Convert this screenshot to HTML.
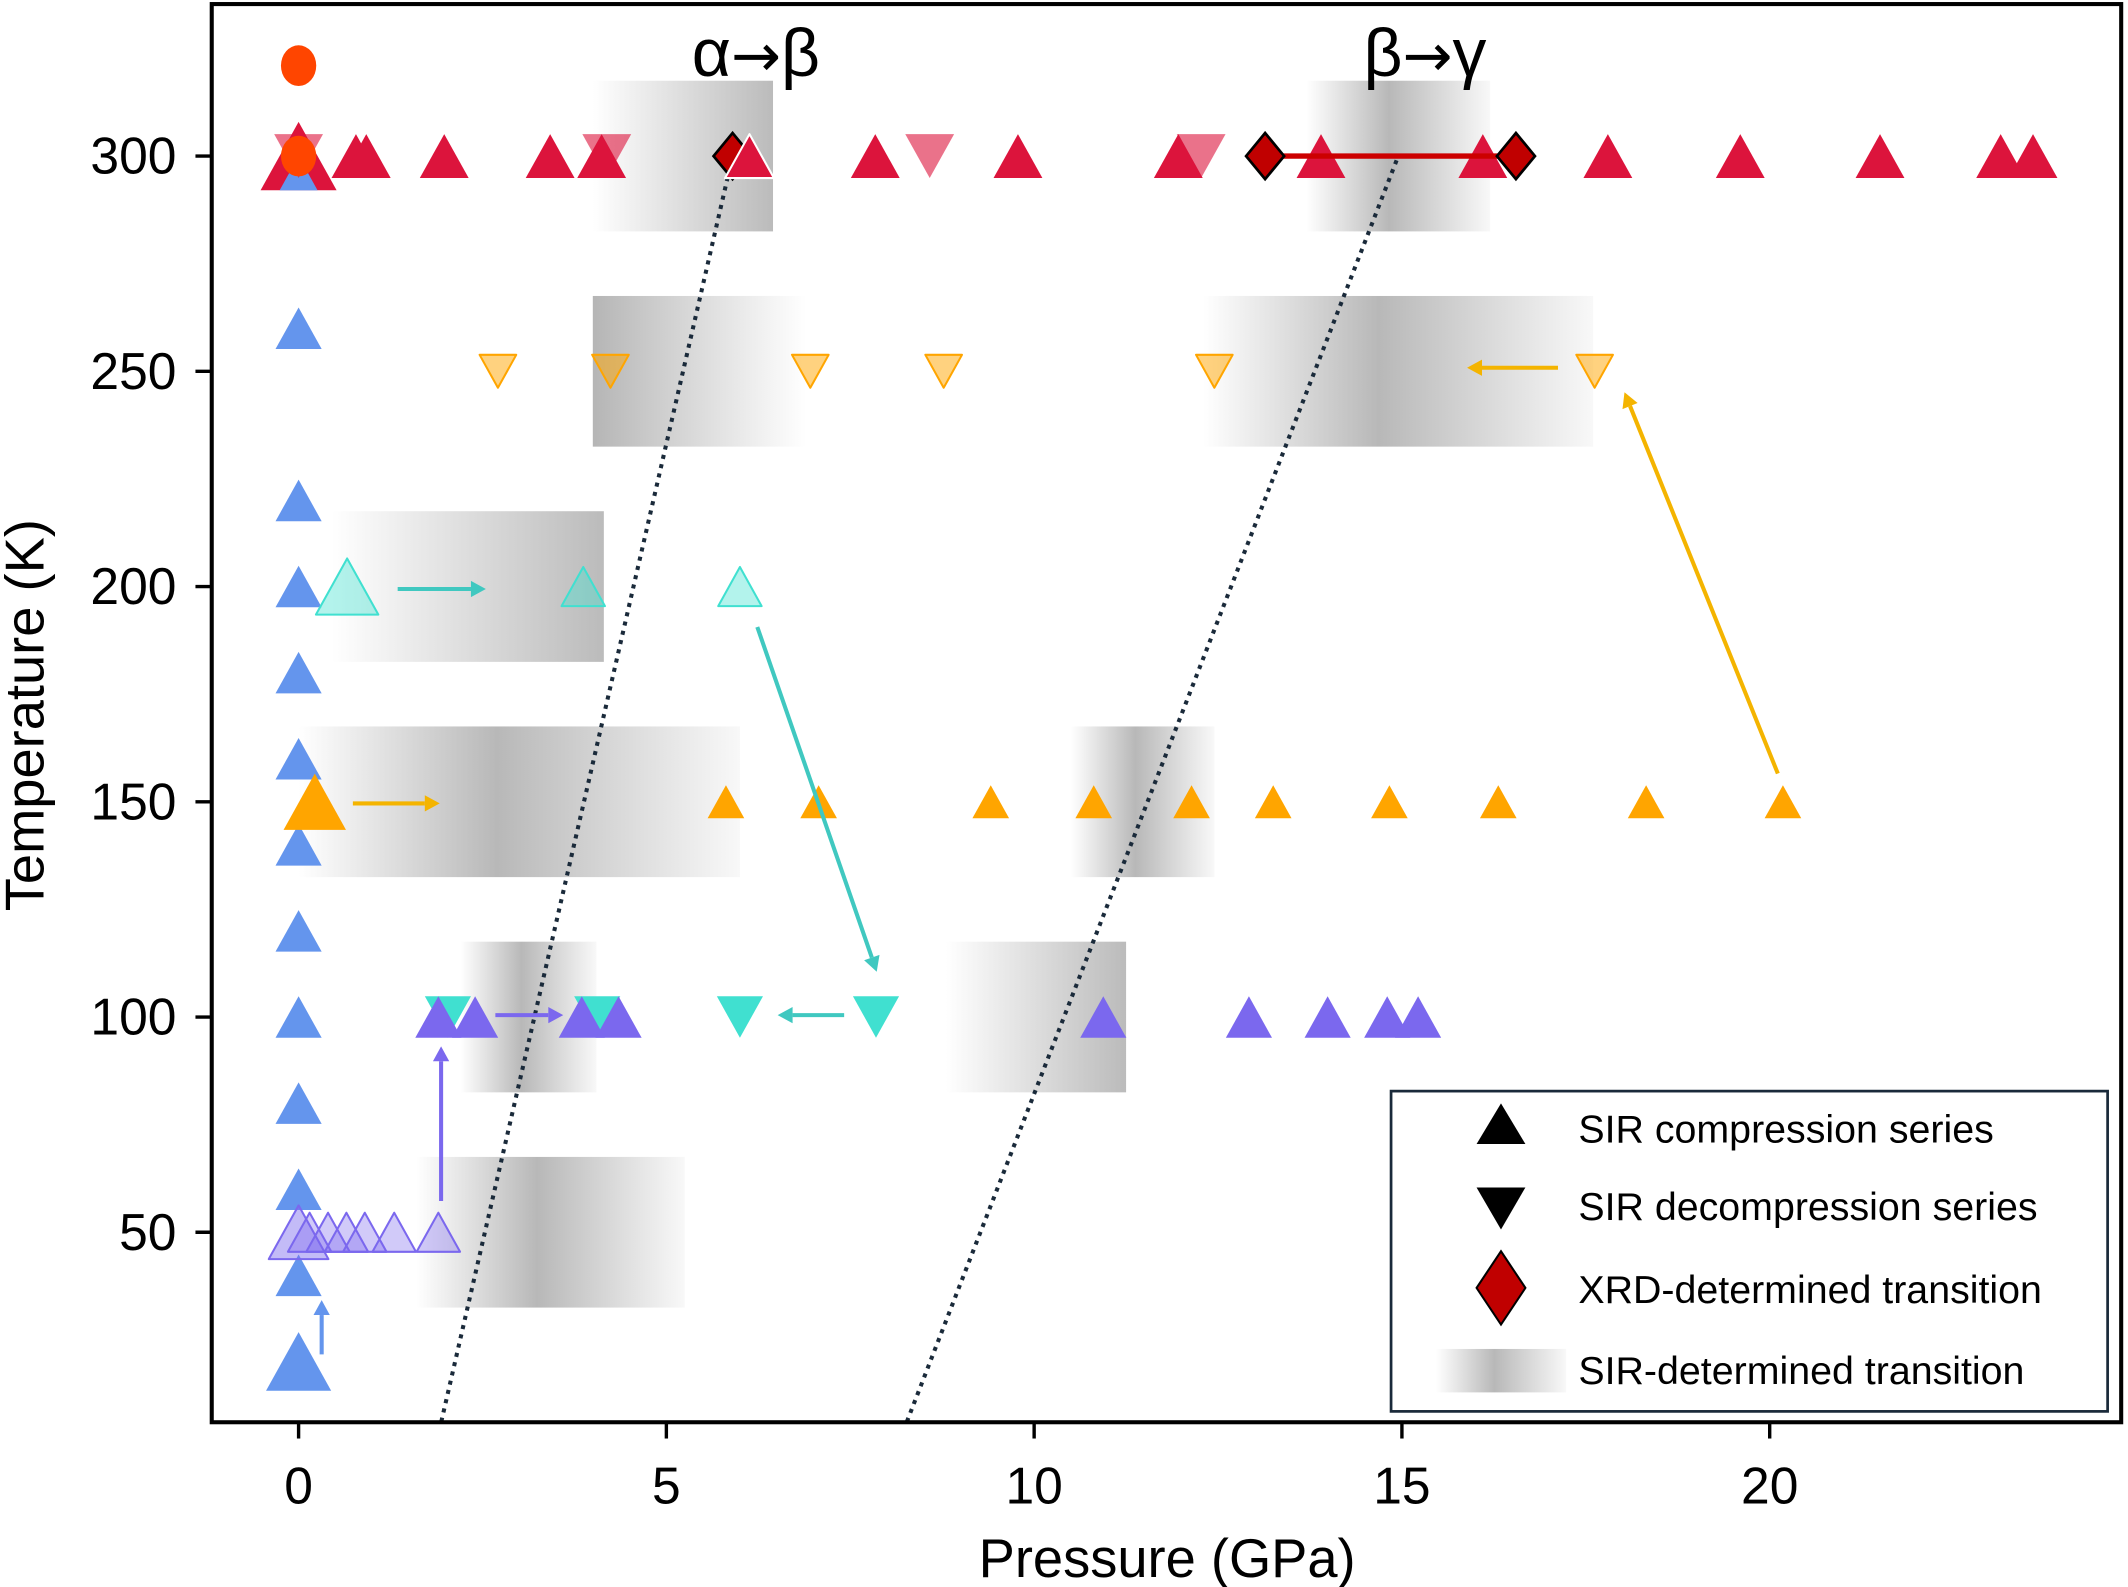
<!DOCTYPE html>
<html><head><meta charset="utf-8"><style>
html,body{margin:0;padding:0;background:#fff}
svg{display:block}
text{font-family:"Liberation Sans Narrow","Liberation Sans",sans-serif;fill:#000}
</style></head><body>
<svg id="chart" width="2128" height="1587" viewBox="0 0 1568 1169.4" xmlns="http://www.w3.org/2000/svg">
<defs>
<linearGradient id="gl" x1="0" x2="1"><stop offset="0" stop-color="#bbb" stop-opacity="0"/><stop offset="1" stop-color="#bbb"/></linearGradient>
<linearGradient id="gr" x1="0" x2="1"><stop offset="0" stop-color="#b5b5b5"/><stop offset="1" stop-color="#bbb" stop-opacity="0"/></linearGradient>
<linearGradient id="gc" x1="0" x2="1"><stop offset="0" stop-color="#bbb" stop-opacity="0"/><stop offset="0.45" stop-color="#b8b8b8"/><stop offset="1" stop-color="#bbb" stop-opacity="0.1"/></linearGradient>
<clipPath id="plotclip"><rect x="156" y="3" width="1407" height="1045"/></clipPath>
</defs>
<g id="plot" clip-path="url(#plotclip)"></g>
<g id="axes"></g>
</svg>
<script>
// ---- data ----
const bandPmin = [4.0, 13.7, 4.0, 12.3, 0.45, 0.0, 10.5, 2.2, 8.8, 1.6];
const bandPmax = [6.45, 16.2, 6.9, 17.6, 4.15, 6.0, 12.45, 4.05, 11.25, 5.25];
const bandT    = [300, 300, 250, 250, 200, 150, 150, 100, 100, 50];
const bandDir  = ['l','c','r','c','l','c','c','c','l','c'];

const redUpP   = [0, 0.78, 0.92, 1.98, 3.42, 4.12, 6.13, 7.84, 9.78, 11.96, 13.9, 16.1, 17.8, 19.6, 21.5, 23.14, 23.58];
const redDownP = [0, 4.19, 8.58, 12.27];
const diamondP = [5.9, 13.14, 16.55];
const circleP  = [0, 0];
const circleT  = [321, 300];
const blueT    = [260, 220, 200, 180, 160, 140, 120, 100, 80, 60, 40];
const cyanLightP = [3.87, 6.0];
const cyanDownP  = [2.03, 4.06, 6.0, 7.85];
const purpleUpP  = [1.9, 2.4, 3.85, 4.35, 10.94, 12.92, 13.99, 14.8, 15.22];
const purple50P  = [0.15, 0.4, 0.65, 0.9, 1.3, 1.9];
const orangeUpP  = [5.81, 7.07, 9.41, 10.81, 12.14, 13.25, 14.83, 16.31, 18.32, 20.18];
const orangeDownP= [2.71, 4.24, 6.957, 8.77, 12.45, 17.62];
const xTicks = [0, 5, 10, 15, 20];
const yTicks = [50, 100, 150, 200, 250, 300];
const phaseLineP0 = [1.94, 8.27];
const phaseLineP1 = [5.9, 14.95];

const X = p => 220 + p * 54.2;
const Y = t => 115 + (300 - t) * 3.172;
const NS = 'http://www.w3.org/2000/svg';
const plot = document.getElementById('plot');
const axes = document.getElementById('axes');
function mk(tag, attrs, parent) {
  const e = document.createElementNS(NS, tag);
  for (const k in attrs) e.setAttribute(k, attrs[k]);
  (parent || plot).appendChild(e);
  return e;
}
function tri(p, t, s, fill, op, stroke, down, name) {
  const x = X(p), y = Y(t), h = s * 0.9;
  const pts = down ? `${x-s/2},${y-h/2} ${x+s/2},${y-h/2} ${x},${y+h/2}` : `${x-s/2},${y+h/2} ${x+s/2},${y+h/2} ${x},${y-h/2}`;
  const e = mk('polygon', {points: pts, fill: fill, 'fill-opacity': op, stroke: stroke || 'none', 'stroke-width': 1.5, 'stroke-linejoin': 'round'});
  
  
  return e;
}
function arrow(x1, y1, x2, y2, col, name) {
  const g = mk('g', {});
  
  
  const dx = x2 - x1, dy = y2 - y1, L = Math.hypot(dx, dy), ux = dx / L, uy = dy / L;
  const hl = 11, hw = 6;
  mk('line', {x1: x1, y1: y1, x2: x2 - ux * hl, y2: y2 - uy * hl, stroke: col, 'stroke-width': 3}, g);
  mk('polygon', {points: `${x2},${y2} ${x2-ux*hl-uy*hw},${y2-uy*hl+ux*hw} ${x2-ux*hl+uy*hw},${y2-uy*hl-ux*hw}`, fill: col}, g);
}

// bands
bandT.forEach((t, i) => {
  const r = mk('rect', {x: X(bandPmin[i]), y: Y(t + 17.5), width: X(bandPmax[i]) - X(bandPmin[i]), height: 35 * 3.172, fill: 'url(#g' + bandDir[i] + ')'});
  
  
});

// phase lines
phaseLineP0.forEach((p, i) => {
  const l = mk('line', {x1: X(p), y1: Y(6), x2: X(phaseLineP1[i]), y2: Y(300), stroke: '#1a2a3a', 'stroke-width': 3, 'stroke-dasharray': '3,4'});
  
  
});

// blue at 0
blueT.forEach(t => tri(0, t, 34, '#6495ed', 1, null, false, 'blue-compression-point'));
tri(0, 20, 48, '#6495ed', 1, null, false, 'blue-compression-start');
// purple at 50
tri(0, 50, 44, '#7b68ee', 0.45, '#7b68ee', false, 'purple-50k-start');
purple50P.forEach(p => tri(p, 50, 32, '#7b68ee', 0.35, '#7b68ee', false, 'purple-50k-point'));
// cyan
tri(0.66, 200, 46, '#40e0d0', 0.4, '#40e0d0', false, 'cyan-200k-start');
cyanLightP.forEach(p => tri(p, 200, 32, '#40e0d0', 0.4, '#40e0d0', false, 'cyan-200k-point'));
cyanDownP.forEach(p => tri(p, 100, 34, '#40e0d0', 1, null, true, 'cyan-decompression-point'));
purpleUpP.forEach(p => tri(p, 100, 34, '#7b68ee', 1, null, false, 'purple-compression-point'));
// orange
tri(0.22, 150, 46, '#ffa500', 1, null, false, 'orange-150k-start');
orangeUpP.forEach(p => tri(p, 150, 27, '#ffa500', 1, null, false, 'orange-compression-point'));
orangeDownP.forEach(p => tri(p, 250, 27, '#ffa500', 0.5, '#ffa500', true, 'orange-decompression-point'));
// red
tri(0, 300, 56, '#dc143c', 1, null, false, 'red-compression-start');
tri(0, 296, 28, '#6495ed', 1, null, false, 'blue-300k-point');
redUpP.slice(1).forEach(p => tri(p, 300, 36, '#dc143c', 1, null, false, 'red-compression-point'));
redDownP.forEach(p => tri(p, 300, 36, '#dc143c', 0.6, null, true, 'red-decompression-point'));
const xrdLine = mk('line', {x1: X(diamondP[1]), y1: Y(300), x2: X(diamondP[2]), y2: Y(300), stroke: '#c00', 'stroke-width': 4});


diamondP.forEach(p => {
  const x = X(p), y = Y(300);
  const d = mk('polygon', {points: `${x},${y-17} ${x+14},${y} ${x},${y+17} ${x-14},${y}`, fill: '#c00000', stroke: '#000', 'stroke-width': 2});
  
  
});
tri(6.13, 300, 36, '#dc143c', 1, '#fff', false, 'red-compression-point');
circleP.forEach((p, i) => {
  const c = mk('ellipse', {cx: X(p), cy: Y(circleT[i]), rx: 13, ry: 15, fill: '#ff4500'});
  
  
});

// arrows
arrow(237, 998, 237, 958, '#6495ed', 'blue-arrow');
arrow(293, 434, 358, 434, '#40c8c0', 'cyan-arrow-right');
arrow(558, 462, 646, 716, '#40c8c0', 'cyan-arrow-down');
arrow(622, 748, 573, 748, '#40c8c0', 'cyan-arrow-left');
arrow(325, 885, 325, 771, '#7b68ee', 'purple-arrow-up');
arrow(365, 748, 415, 748, '#7b68ee', 'purple-arrow-right');
arrow(260, 592, 324, 592, '#f4b400', 'orange-arrow-right');
arrow(1310, 570, 1197, 289, '#f4b400', 'orange-arrow-diagonal');
arrow(1148, 271, 1081, 271, '#f4b400', 'orange-arrow-left');

// titles
[['α', 'β', 557], ['β', 'γ', 1050]].forEach(([a, b, x]) => {
  const t = mk('text', {x: x, y: 56, 'font-size': 50, 'text-anchor': 'middle'});
  
  
  const s1 = mk('tspan', {}, t); s1.textContent = a;
  const s2 = mk('tspan', {style: 'font-family:"DejaVu Sans",sans-serif', 'font-size': 44}, t); s2.textContent = '→';
  const s3 = mk('tspan', {}, t); s3.textContent = b;
});

// axes frame
const frame = mk('rect', {x: 156, y: 3, width: 1407, height: 1045, fill: 'none', stroke: '#000', 'stroke-width': 3}, axes);


xTicks.forEach(v => {
  mk('line', {x1: X(v), y1: 1048, x2: X(v), y2: 1060, stroke: '#000', 'stroke-width': 2.5}, axes);
  const t = mk('text', {x: X(v), y: 1108, 'font-size': 38, 'text-anchor': 'middle'}, axes);
  t.textContent = v;
  
  
});
yTicks.forEach(v => {
  mk('line', {x1: 144, y1: Y(v), x2: 156, y2: Y(v), stroke: '#000', 'stroke-width': 2.5}, axes);
  const t = mk('text', {x: 130, y: Y(v) + 13, 'font-size': 38, 'text-anchor': 'end'}, axes);
  t.textContent = v;
  
  
});
const xt = mk('text', {x: 860, y: 1162, 'font-size': 40, 'text-anchor': 'middle'}, axes);
xt.textContent = 'Pressure (GPa)';


const yt = mk('text', {x: 0, y: 0, 'font-size': 40, 'text-anchor': 'middle', transform: 'translate(32,527) rotate(-90)'}, axes);
yt.textContent = 'Temperature (K)';



// legend
const lg = mk('g', {}, axes);


mk('rect', {x: 1025, y: 804, width: 528, height: 236, fill: '#fff', stroke: '#1a2a3a', 'stroke-width': 2}, lg);
mk('polygon', {points: '1088,843 1124,843 1106,813', fill: '#000'}, lg);
mk('polygon', {points: '1088,875 1124,875 1106,906', fill: '#000'}, lg);
mk('polygon', {points: '1106,922 1124,949 1106,976 1088,949', fill: '#c00000', stroke: '#000', 'stroke-width': 1.5}, lg);
const lgrad = mk('linearGradient', {id: 'glg', x1: 0, x2: 1}, document.querySelector('defs'));
mk('stop', {offset: 0, 'stop-color': '#bbb', 'stop-opacity': 0}, lgrad);
mk('stop', {offset: 0.45, 'stop-color': '#b8b8b8'}, lgrad);
mk('stop', {offset: 1, 'stop-color': '#bbb', 'stop-opacity': 0.1}, lgrad);
mk('rect', {x: 1058, y: 994, width: 96, height: 32, fill: 'url(#glg)'}, lg);
[['SIR compression series', 842], ['SIR decompression series', 899], ['XRD-determined transition', 960], ['SIR-determined transition', 1020]].forEach(([s, y]) => {
  const t = mk('text', {x: 1163, y: y, 'font-size': 29}, lg);
  t.textContent = s;
  
  
});
</script>
</body></html>
